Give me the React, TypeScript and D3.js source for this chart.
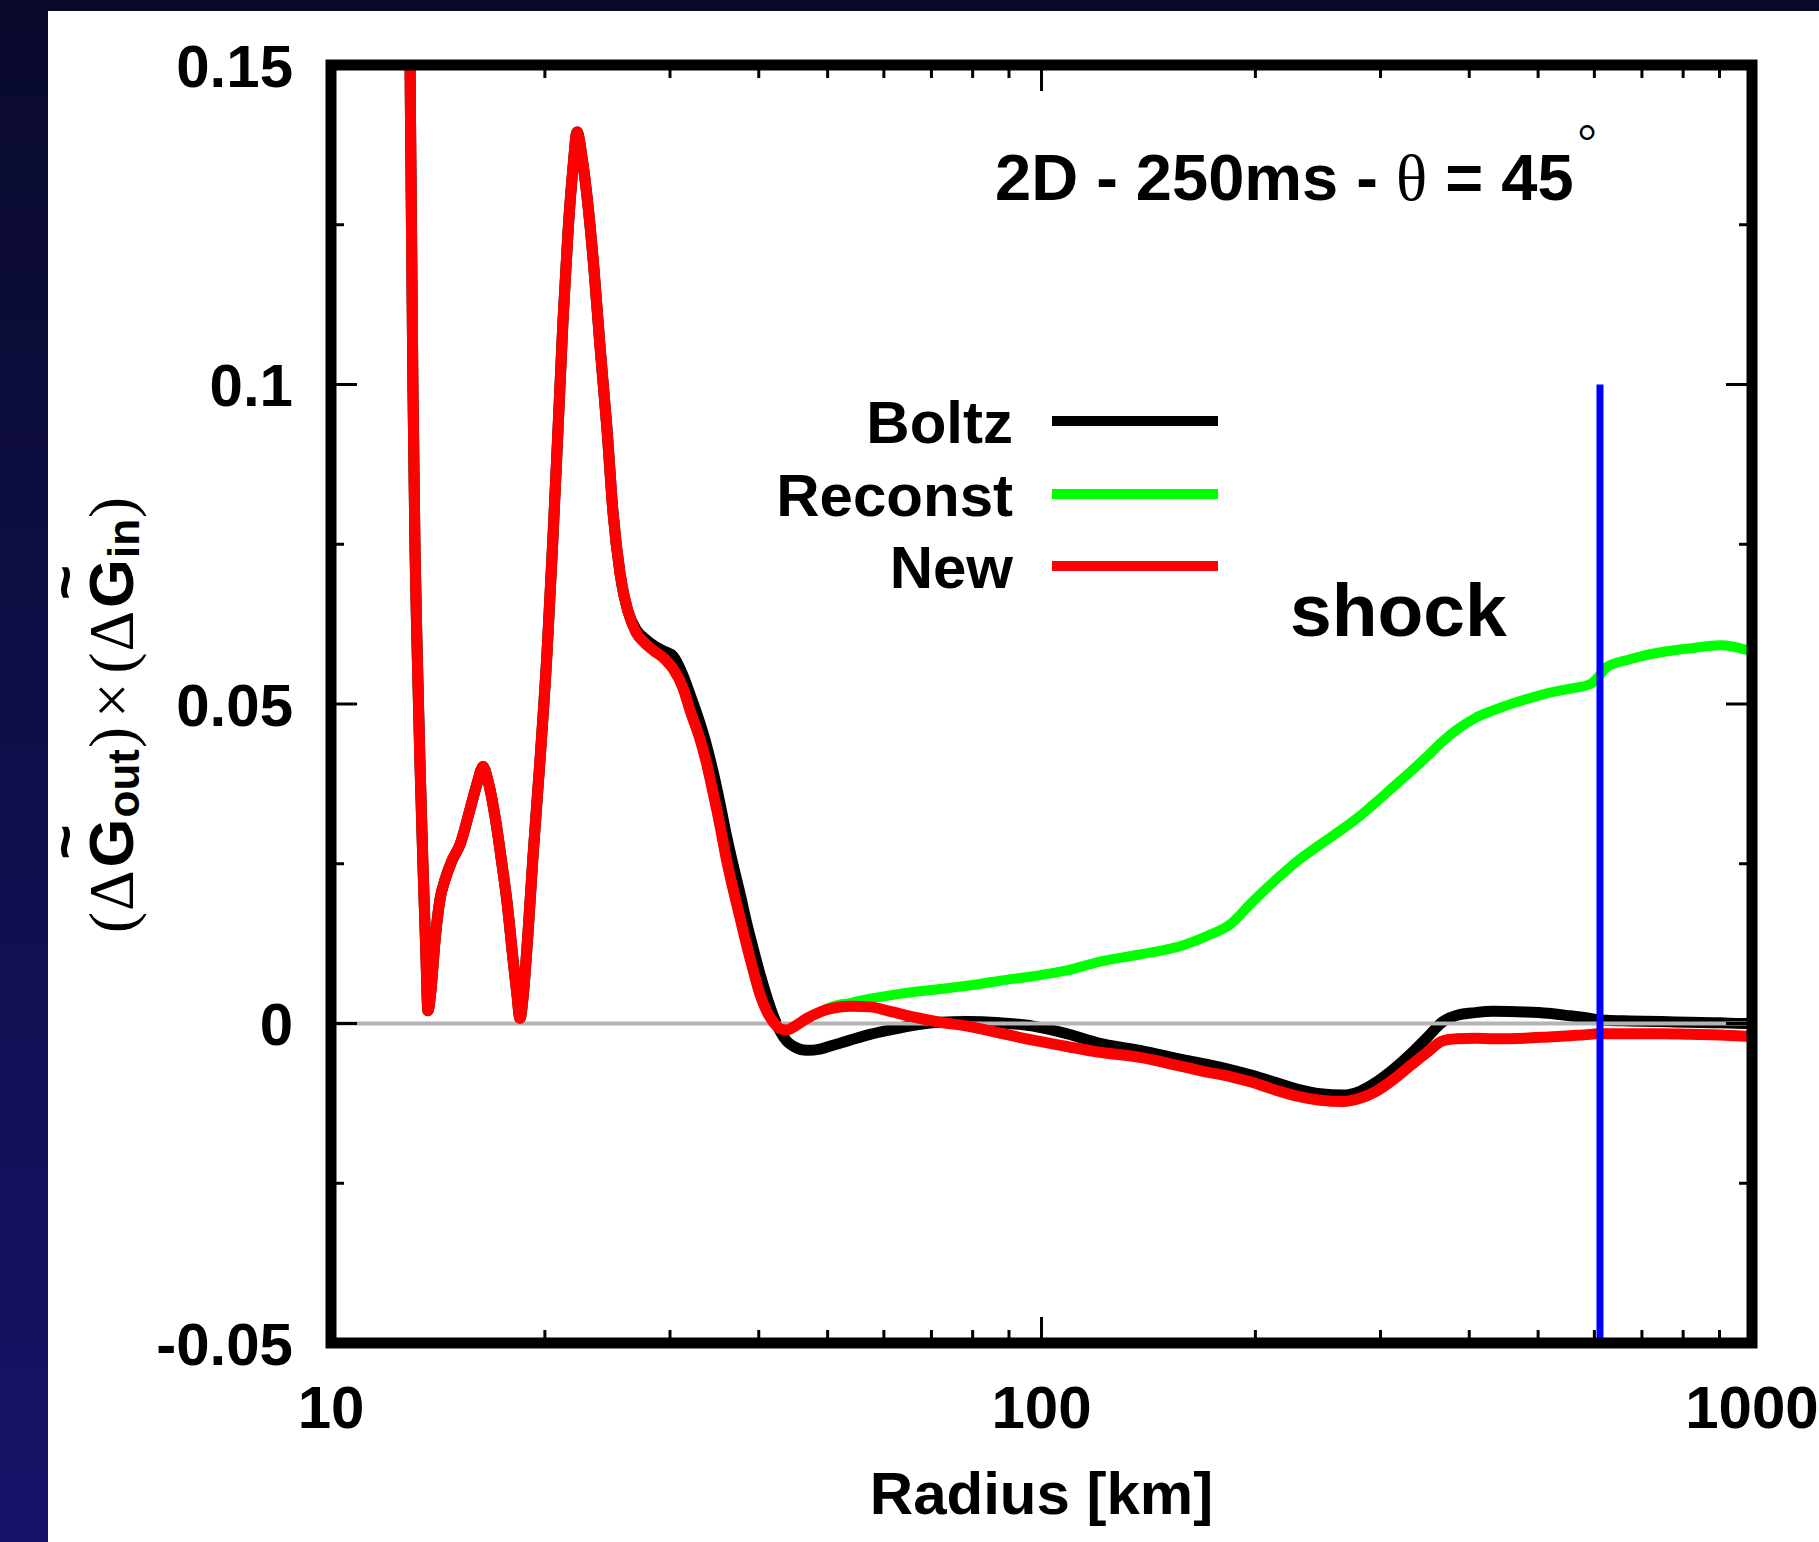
import React from "react";
import * as d3 from "d3";

// Radius grid [km] shared by the three curves
const radius = [
  12.88, 12.92, 13.04, 13.13, 13.21, 13.34, 13.47, 13.6, 13.69, 13.82,
  14.01, 14.24, 14.47, 14.8, 15.19, 15.69, 16.05, 16.37, 16.63, 17.01,
  17.4, 17.69, 18.04, 18.27, 18.45, 18.63, 18.93, 19.24, 19.68, 20.14,
  20.53, 20.87, 21.21, 21.56, 21.91, 22.2, 22.56, 23.0, 23.45, 23.91,
  24.46, 24.94, 25.51, 26.18, 26.87, 27.67, 28.58, 29.52, 30.3, 31.29,
  32.01, 33.06, 33.72, 34.48, 35.27, 36.09, 36.81, 37.65, 38.51, 39.27,
  40.17, 41.1, 41.9, 42.86, 43.83, 44.99, 46.77, 48.79, 50.89, 53.77,
  57.38, 61.22, 66.8, 71.97, 78.56, 87.41, 97.27, 108.6, 120.9, 137.6,
  158.7, 171.0, 184.2, 197.9, 213.2, 229.6, 246.6, 265.7, 280.8, 294.8,
  312.5, 331.3, 348.9, 367.4, 384.5, 407.6, 432.1, 479.2, 516.4, 554.4,
  591.6, 605.1, 625.1, 673.5, 744.7, 817.9, 901.6, 987.2, 1000,
];

const boltz = [
  0.168, 0.15, 0.1, 0.074, 0.06, 0.041, 0.025, 0.011, 0.002, 0.005,
  0.013, 0.0195, 0.0225, 0.0255, 0.028, 0.0335, 0.0375, 0.0402, 0.038, 0.0325,
  0.025, 0.019, 0.01, 0.0045, 0.0008, 0.004, 0.014, 0.026, 0.041, 0.058,
  0.076, 0.093, 0.11, 0.124, 0.134, 0.1395, 0.1355, 0.128, 0.118, 0.106,
  0.093, 0.08, 0.0705, 0.0645, 0.0617, 0.0602, 0.059, 0.0582, 0.0575, 0.0545,
  0.0515, 0.047, 0.0438, 0.0395, 0.0345, 0.029, 0.0248, 0.0203, 0.0155, 0.0118,
  0.0077, 0.004, 0.0013, -0.0012, -0.0028, -0.0037, -0.0042, -0.004, -0.0034, -0.0026,
  -0.0017, -0.001, -0.0002, 0.0002, 0.0003, 0.0001, -0.0004, -0.0016, -0.0031, -0.0042,
  -0.0057, -0.0064, -0.0072, -0.0081, -0.0092, -0.0103, -0.011, -0.0112, -0.0106, -0.0093,
  -0.0072, -0.0047, -0.0022, 0.0003, 0.0013, 0.0017, 0.0019, 0.0018, 0.0016, 0.0012,
  0.0008, 0.0006, 0.0005, 0.0004, 0.0003, 0.0002, 0.0001, 0.0, 0.0,
];

const reconst = [
  0.168, 0.15, 0.1, 0.074, 0.06, 0.041, 0.025, 0.011, 0.002, 0.005,
  0.013, 0.0195, 0.0225, 0.0255, 0.028, 0.0335, 0.0375, 0.0402, 0.038, 0.0325,
  0.025, 0.019, 0.01, 0.0045, 0.0008, 0.004, 0.014, 0.026, 0.041, 0.058,
  0.076, 0.093, 0.11, 0.124, 0.134, 0.1395, 0.1355, 0.128, 0.118, 0.106,
  0.093, 0.08, 0.0705, 0.0645, 0.0612, 0.0595, 0.0582, 0.057, 0.0555, 0.0525,
  0.049, 0.0445, 0.041, 0.0362, 0.031, 0.0252, 0.021, 0.0165, 0.012, 0.0084,
  0.0045, 0.0018, 0.0003, -0.0008, -0.001, -0.0004, 0.0008, 0.0018, 0.0027, 0.0032,
  0.0039, 0.0044, 0.005, 0.0054, 0.0059, 0.0067, 0.0074, 0.0083, 0.0097, 0.0108,
  0.0123, 0.0137, 0.0155, 0.019, 0.0224, 0.0255, 0.028, 0.0305, 0.0325, 0.0345,
  0.037, 0.0395, 0.0418, 0.0442, 0.046, 0.0478, 0.049, 0.0507, 0.0517, 0.0524,
  0.0531, 0.054, 0.0558, 0.057, 0.0581, 0.0587, 0.0592, 0.0584, 0.0582,
];

const newScheme = [
  0.168, 0.15, 0.1, 0.074, 0.06, 0.041, 0.025, 0.011, 0.002, 0.005,
  0.013, 0.0195, 0.0225, 0.0255, 0.028, 0.0335, 0.0375, 0.0402, 0.038, 0.0325,
  0.025, 0.019, 0.01, 0.0045, 0.0008, 0.004, 0.014, 0.026, 0.041, 0.058,
  0.076, 0.093, 0.11, 0.124, 0.134, 0.1395, 0.1355, 0.128, 0.118, 0.106,
  0.093, 0.08, 0.0705, 0.0645, 0.0612, 0.0595, 0.0582, 0.057, 0.0555, 0.0525,
  0.049, 0.0445, 0.041, 0.0362, 0.031, 0.0252, 0.021, 0.0165, 0.012, 0.0084,
  0.0045, 0.0018, 0.0003, -0.0008, -0.001, -0.0004, 0.0008, 0.0018, 0.0024, 0.0027,
  0.0026, 0.0019, 0.0009, 0.0002, -0.0004, -0.0015, -0.0026, -0.0036, -0.0045, -0.0053,
  -0.0068, -0.0076, -0.0083, -0.0092, -0.0104, -0.0114, -0.012, -0.0122, -0.0117, -0.0107,
  -0.0088, -0.0065, -0.0045, -0.0027, -0.0024, -0.0023, -0.0024, -0.0023, -0.0021, -0.0019,
  -0.0017, -0.0016, -0.0016, -0.0016, -0.0016, -0.0017, -0.0018, -0.002, -0.002,
];

const shockRadius = 611;
const shockTop = 0.1;

const xTickValues = [10, 100, 1000];
const xTickLabels = ["10", "100", "1000"];
const yTickValues = [0.15, 0.1, 0.05, 0, -0.05];
const yTickLabels = ["0.15", "0.1", "0.05", "0", "-0.05"];

const legendNames = ["Boltz", "Reconst", "New"];
const seriesColors = ["#000000", "#00ff00", "#ff0000"];

const SANS = "'Liberation Sans', Arial, Helvetica, sans-serif";
const SERIF = "'Liberation Serif', 'Times New Roman', serif";

export default function App() {
  const W = 1819;
  const H = 1542;
  const x0 = 331, x1 = 1752, y0 = 65, y1 = 1343;

  const x = d3.scaleLog().domain([10, 1000]).range([x0, x1]);
  const y = d3.scaleLinear().domain([-0.05, 0.15]).range([y1, y0]);

  const line = d3
    .line<number>()
    .x((_, i) => x(radius[i]))
    .y((d) => y(d))
    .curve(d3.curveMonotoneX);

  const xMinor = x.ticks().filter((t) => !xTickValues.includes(t));
  const yAll = d3.range(-0.05, 0.1501, 0.025).map((v) => +v.toFixed(3));
  const yMinor = yAll.filter((v) => !yTickValues.some((m) => Math.abs(m - v) < 1e-6));

  const majorLen = 26;
  const minorLen = 13;
  const tickW = 3;
  const dataW = 11;

  const legendY = [421, 494, 566];

  return (
    <svg
      width={W}
      height={H}
      style={{ position: "absolute", left: 0, top: 0, display: "block" }}
      xmlns="http://www.w3.org/2000/svg"
    >
      <defs>
        <linearGradient id="bg" x1="0" y1="0" x2="0" y2="1">
          <stop offset="0" stopColor="#090a2c" />
          <stop offset="1" stopColor="#17136a" />
        </linearGradient>
        <clipPath id="plotClip">
          <rect x={x0} y={y0} width={x1 - x0} height={y1 - y0} />
        </clipPath>
      </defs>
      <rect x={0} y={0} width={W} height={H} fill="url(#bg)" />
      <rect x={48} y={11} width={W - 48} height={H - 11} fill="#ffffff" />

      {/* data */}
      <g clipPath="url(#plotClip)" fill="none" strokeLinejoin="round" strokeLinecap="round">
        <path d={line(boltz) || ""} stroke={seriesColors[0]} strokeWidth={dataW} />
        <path d={line(reconst) || ""} stroke={seriesColors[1]} strokeWidth={dataW - 1} />
        <line x1={x0} x2={x1} y1={y(0)} y2={y(0)} stroke="#b4b4b4" strokeWidth={4} />
        <path d={line(newScheme) || ""} stroke={seriesColors[2]} strokeWidth={dataW} />
        <line
          x1={x(shockRadius)}
          x2={x(shockRadius)}
          y1={y(shockTop)}
          y2={y1}
          stroke="#0000ff"
          strokeWidth={7}
          strokeLinecap="butt"
        />
      </g>

      {/* ticks */}
      <g stroke="#000" strokeWidth={tickW}>
        {xTickValues.map((v) => (
          <g key={"xm" + v}>
            <line x1={x(v)} x2={x(v)} y1={y1} y2={y1 - majorLen} />
            <line x1={x(v)} x2={x(v)} y1={y0} y2={y0 + majorLen} />
          </g>
        ))}
        {xMinor.map((v) => (
          <g key={"xn" + v}>
            <line x1={x(v)} x2={x(v)} y1={y1} y2={y1 - minorLen} />
            <line x1={x(v)} x2={x(v)} y1={y0} y2={y0 + minorLen} />
          </g>
        ))}
        {yTickValues.map((v) => (
          <g key={"ym" + v}>
            <line x1={x0} x2={x0 + majorLen} y1={y(v)} y2={y(v)} />
            <line x1={x1} x2={x1 - majorLen} y1={y(v)} y2={y(v)} />
          </g>
        ))}
        {yMinor.map((v) => (
          <g key={"yn" + v}>
            <line x1={x0} x2={x0 + minorLen} y1={y(v)} y2={y(v)} />
            <line x1={x1} x2={x1 - minorLen} y1={y(v)} y2={y(v)} />
          </g>
        ))}
      </g>

      {/* frame */}
      <rect
        x={x0}
        y={y0}
        width={x1 - x0}
        height={y1 - y0}
        fill="none"
        stroke="#000"
        strokeWidth={11}
      />

      {/* tick labels */}
      <g fontFamily={SANS} fontWeight="bold" fontSize={60} fill="#000">
        {yTickValues.map((v, i) => (
          <text key={"yl" + v} x={293} y={y(v) + 21.5} textAnchor="end">
            {yTickLabels[i]}
          </text>
        ))}
        {xTickValues.map((v, i) => (
          <text key={"xl" + v} x={x(v)} y={1427.5} textAnchor="middle">
            {xTickLabels[i]}
          </text>
        ))}
        <text x={(x0 + x1) / 2} y={1514} textAnchor="middle">
          Radius [km]
        </text>
      </g>

      {/* y axis label */}
      <text
        transform="translate(133,715) rotate(-90)"
        textAnchor="middle"
        fontFamily={SANS}
        fontWeight="bold"
        fontSize={63}
        fill="#000"
      >
        <tspan fontFamily={SERIF} fontWeight="normal">(</tspan>
        <tspan fontFamily={SERIF} fontWeight="normal" dx={1}>Δ</tspan>
        <tspan dx={3}>G</tspan>
        <tspan fontSize={60} dx={-41} dy={-48}>~</tspan>
        <tspan fontSize={44} dx={7} dy={54}>out</tspan>
        <tspan fontFamily={SERIF} fontWeight="normal" dx={1} dy={-6}>)</tspan>
        <tspan fontFamily={SERIF} fontWeight="normal" dx={9}>×</tspan>
        <tspan fontFamily={SERIF} fontWeight="normal" dx={9}>(</tspan>
        <tspan fontFamily={SERIF} fontWeight="normal" dx={1}>Δ</tspan>
        <tspan dx={3}>G</tspan>
        <tspan fontSize={60} dx={-41} dy={-48}>~</tspan>
        <tspan fontSize={44} dx={7} dy={54}>in</tspan>
        <tspan fontFamily={SERIF} fontWeight="normal" dx={1} dy={-6}>)</tspan>
      </text>

      {/* title */}
      <text x={995} y={200} fontFamily={SANS} fontWeight="bold" fontSize={65} fill="#000">
        {"2D - 250ms - "}
        <tspan fontFamily={SERIF} fontWeight="normal">θ</tspan>
        {" = 45"}
        <tspan fontFamily={SERIF} fontWeight="normal" fontSize={48} dx={4} dy={-42}>°</tspan>
      </text>

      {/* legend */}
      <g fontFamily={SANS} fontWeight="bold" fontSize={60} fill="#000">
        {legendNames.map((name, i) => (
          <g key={name}>
            <text x={1013} y={legendY[i] + 21.5} textAnchor="end">
              {name}
            </text>
            <line
              x1={1052}
              x2={1218}
              y1={legendY[i]}
              y2={legendY[i]}
              stroke={seriesColors[i]}
              strokeWidth={10}
            />
          </g>
        ))}
      </g>

      <text x={1290} y={636} fontFamily={SANS} fontWeight="bold" fontSize={75} fill="#000">
        shock
      </text>
    </svg>
  );
}
